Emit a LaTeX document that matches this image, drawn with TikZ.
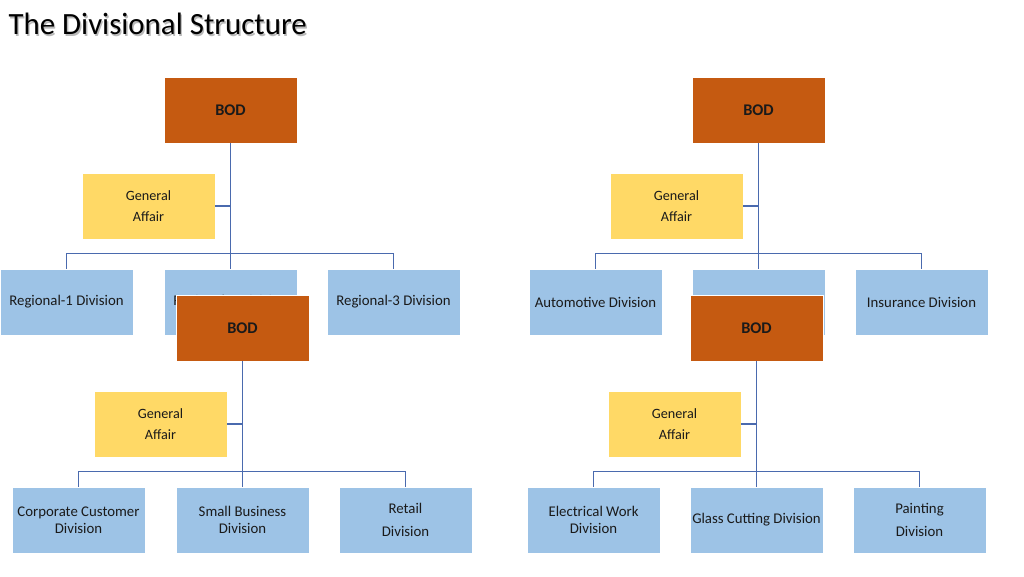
\documentclass[tikz,border=0pt]{standalone}
\usepackage{fontspec}
\setmainfont{Carlito}
\definecolor{bodc}{HTML}{C55A11}
\definecolor{gac}{HTML}{FFD966}
\definecolor{divc}{HTML}{9DC3E6}
\definecolor{linec}{HTML}{4A6AAE}
\definecolor{txtc}{HTML}{1A1A1A}
\tikzset{
  box/.style={minimum width=133pt, minimum height=66pt, inner sep=0pt, align=center, text=txtc, draw=white, line width=0.8pt},
  bodbox/.style={box, fill=bodc, font=\fontsize{16.3}{18}\selectfont\bfseries},
  gabox/.style={box, fill=gac, font=\fontsize{14.2}{21}\selectfont},
  divbox/.style={box, fill=divc, font=\fontsize{14.8}{16.5}\selectfont},
  divboxw/.style={box, fill=divc, font=\fontsize{14.8}{23}\selectfont},
  conn/.style={draw=linec, line width=1.4pt},
}
\begin{document}
\begin{tikzpicture}[x=1pt,y=-1pt]
\useasboundingbox (0,0) rectangle (1024,576);
\fill[white] (0,0) rectangle (1024,576);
% title
\node[anchor=west, font=\fontsize{30.9}{36}\selectfont, text=black!45, opacity=0.6] (titleshadow) at (6.4,25.6) {The Divisional Structure};
\node[anchor=west, font=\fontsize{30.9}{36}\selectfont, text=black] (title) at (5,24.2) {The Divisional Structure};

% ---------- top left tree ----------
\node[bodbox] (b1) at (230.5,110) {BOD};
\node[gabox] (g1) at (148.5,206) {General\\Affair};
\node[divbox] (r1) at (66.5,302) {Regional-1 Division};
\node[divbox] (r2) at (230.5,302) {Regional-2 Division};
\node[divbox] (r3) at (393.5,302) {Regional-3 Division};
\draw[conn] (b1.south) -- (r2.north);
\draw[conn] (g1.east) -- (g1.east -| b1.south);
\draw[conn] (r1.north) -- ++(0,-15) -| (r3.north);

% ---------- top right tree ----------
\node[bodbox] (b2) at (758.5,110) {BOD};
\node[gabox] (g2) at (676.5,206) {General\\Affair};
\node[divbox] (a1) at (595.5,302) {Automotive Division};
\node[divbox] (a2) at (758.5,302) {};
\node[divbox] (a3) at (921.5,302) {Insurance Division};
\draw[conn] (b2.south) -- (a2.north);
\draw[conn] (g2.east) -- (g2.east -| b2.south);
\draw[conn] (a1.north) -- ++(0,-15) -| (a3.north);

% ---------- bottom left tree ----------
\node[bodbox] (b3) at (242.5,328) {BOD};
\node[gabox] (g3) at (160.5,424) {General\\Affair};
\node[divbox] (c1) at (78.5,520) {Corporate Customer\\Division};
\node[divbox] (c2) at (242.5,520) {Small Business\\Division};
\node[divboxw] (c3) at (405.5,520) {Retail\\Division};
\draw[conn] (b3.south) -- (c2.north);
\draw[conn] (g3.east) -- (g3.east -| b3.south);
\draw[conn] (c1.north) -- ++(0,-15) -| (c3.north);

% ---------- bottom right tree ----------
\node[bodbox] (b4) at (756.5,328) {BOD};
\node[gabox] (g4) at (674.5,424) {General\\Affair};
\node[divbox] (e1) at (593.5,520) {Electrical Work\\Division};
\node[divbox] (e2) at (756.5,520) {Glass Cutting Division};
\node[divboxw] (e3) at (919.5,520) {Painting\\Division};
\draw[conn] (b4.south) -- (e2.north);
\draw[conn] (g4.east) -- (g4.east -| b4.south);
\draw[conn] (e1.north) -- ++(0,-15) -| (e3.north);
\end{tikzpicture}
\end{document}
